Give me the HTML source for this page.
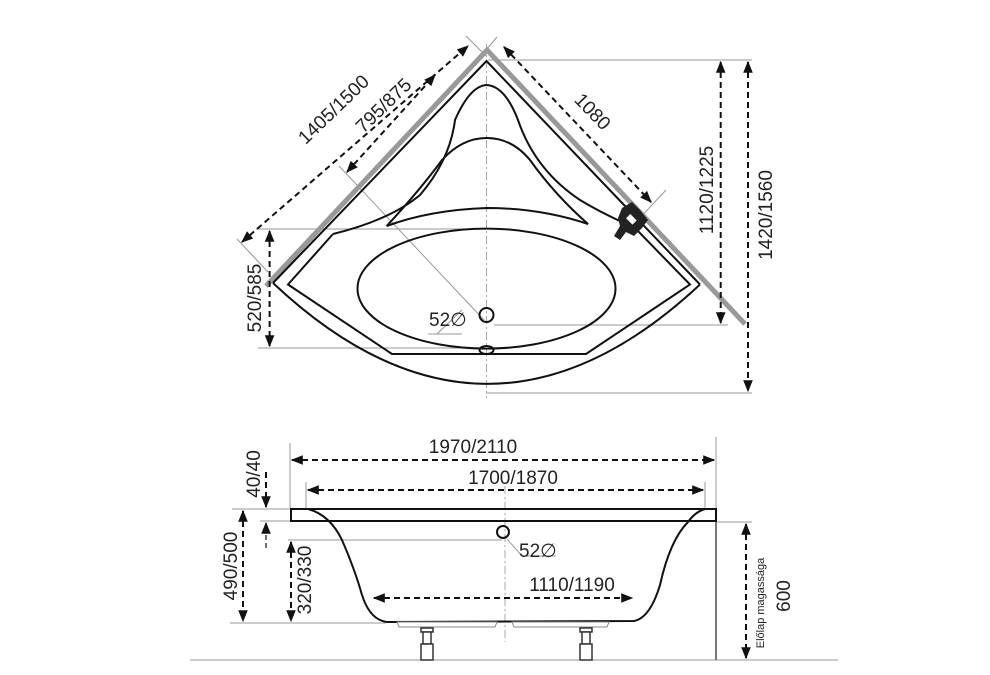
<!DOCTYPE html>
<html><head><meta charset="utf-8"><style>
html,body{margin:0;padding:0;background:#fff}
svg{display:block}
text{font-family:"Liberation Sans",sans-serif;fill:#222}
</style></head><body>
<svg width="990" height="675" viewBox="0 0 990 675" xmlns="http://www.w3.org/2000/svg">
<defs>
<marker id="a" viewBox="0 0 10 10" refX="9" refY="5" markerWidth="6" markerHeight="6" orient="auto-start-reverse"><path d="M0,1 L10,5 L0,9 z" fill="#111"/></marker>
<marker id="b" viewBox="0 0 10 10" refX="9" refY="5" markerWidth="12" markerHeight="12" markerUnits="userSpaceOnUse" orient="auto-start-reverse"><path d="M0,1 L10,5 L0,9 z" fill="#111"/></marker>
</defs>
<!-- ===== TOP VIEW ===== -->
<g fill="none" stroke="#999" stroke-width="1">
<line x1="237" y1="239" x2="268" y2="272"/>
<line x1="466" y1="36" x2="486" y2="56"/>
<line x1="339" y1="166" x2="484" y2="320"/>
<line x1="497" y1="37" x2="486" y2="50"/>
<line x1="666" y1="190" x2="636" y2="222"/>
<line x1="488" y1="60" x2="752" y2="60"/>
<line x1="494" y1="325" x2="728" y2="325"/>
<line x1="486" y1="393" x2="752" y2="393"/>
<line x1="256" y1="229" x2="486" y2="229"/>
<line x1="258" y1="348" x2="486" y2="348"/>
<line x1="437" y1="334" x2="462" y2="310"/>
<line x1="428" y1="334" x2="462" y2="334"/>
</g>
<line x1="486.5" y1="44" x2="486.5" y2="398" stroke="#aaa" stroke-width="1" stroke-dasharray="8,3,2,3"/>
<polyline points="266,286 487,50 745,324" fill="none" stroke="#999" stroke-width="5"/>
<g fill="none" stroke="#111" stroke-width="2">
<path d="M273,283 L486.5,61 L700,284.5"/>
<path d="M273,283 Q486.5,484 700,284.5"/>
<path d="M333,234 L288,284.5 L392,354 L586,354 L690,284.5 L635,228"/>
<path d="M333,234 Q390,220 420,195 Q450,160 455,120 Q470,86 486.5,85 Q505,86 518,120 Q535,170 580,200 Q600,212 622,222"/>
<path d="M386.7,226 Q420,190 442,160 Q462,138 486.5,138 Q512,138 530,160 Q555,195 588,224 Q540,208 486.5,208 Q430,210 386.7,226 z"/>
<ellipse cx="486.5" cy="288.6" rx="129" ry="60"/>
<circle cx="486.5" cy="315" r="7"/>
<ellipse cx="486.5" cy="350" rx="7" ry="4"/>
</g>
<g fill="#222">
<path d="M622,208 L632,202 L640,210 L648,220 L642,228 L634,236 L626,232 L620,240 L614,236 L620,226 L618,218 z"/>
<rect x="627" y="216" width="9" height="6" fill="#fff" transform="rotate(45 631 219)"/>
</g>
<g fill="none" stroke="#111" stroke-width="2" stroke-dasharray="6,4">
<line x1="242" y1="242" x2="468" y2="46" marker-start="url(#a)" marker-end="url(#a)"/>
<line x1="347" y1="172" x2="435" y2="75" marker-start="url(#a)" marker-end="url(#a)"/>
<line x1="504" y1="47" x2="651" y2="202" marker-start="url(#a)" marker-end="url(#a)"/>
<line x1="720.7" y1="62" x2="720.7" y2="323" marker-start="url(#a)" marker-end="url(#a)"/>
<line x1="748" y1="62" x2="748" y2="391" marker-start="url(#a)" marker-end="url(#a)"/>
<line x1="269.6" y1="231" x2="269.6" y2="346" marker-start="url(#a)" marker-end="url(#a)"/>
</g>
<g font-size="19">
<text x="338" y="114" text-anchor="middle" transform="rotate(-44 338 114)">1405/1500</text>
<text x="388" y="110" text-anchor="middle" transform="rotate(-44 388 110)">795/875</text>
<text x="588" y="116" text-anchor="middle" transform="rotate(46 588 116)">1080</text>
<text x="713" y="190" text-anchor="middle" transform="rotate(-90 713 190)">1120/1225</text>
<text x="772" y="215" text-anchor="middle" transform="rotate(-90 772 215)">1420/1560</text>
<text x="261" y="298" text-anchor="middle" transform="rotate(-90 261 298)">520/585</text>
<text x="429" y="326">52∅</text>
</g>
<!-- ===== SIDE VIEW ===== -->
<g fill="none" stroke="#999" stroke-width="1">
<line x1="290" y1="443" x2="290" y2="508"/>
<line x1="716" y1="437" x2="716" y2="508"/>
<line x1="306" y1="482" x2="306" y2="510"/>
<line x1="705" y1="482" x2="705" y2="510"/>
<line x1="232" y1="509" x2="290" y2="509"/>
<line x1="260" y1="521" x2="290" y2="521"/>
<line x1="288" y1="540" x2="502" y2="540"/>
<line x1="230" y1="623" x2="386" y2="623"/>
<line x1="716" y1="522" x2="752" y2="522"/>
<line x1="190" y1="660" x2="838" y2="660"/>
<line x1="507" y1="539" x2="522" y2="556"/>
<line x1="522" y1="556" x2="556" y2="556"/>
</g>
<line x1="505" y1="486" x2="505" y2="642" stroke="#aaa" stroke-width="1" stroke-dasharray="8,3,2,3"/>
<line x1="716" y1="521" x2="716" y2="660" stroke="#777" stroke-width="2"/>
<g fill="none" stroke="#111" stroke-width="2">
<rect x="291" y="509" width="425" height="12"/>
<path d="M308,509 Q330,515 342,540 Q355,570 362,595 Q370,620 387,622 L634,621 Q650,618 660,585 Q670,540 688,522 Q695,512 705,509"/>
<circle cx="503" cy="532" r="6"/>
</g>
<g fill="#fff" stroke="#888" stroke-width="1">
<path d="M397,622 L497,622 L495,627 L399,627 z"/>
<path d="M512,622 L609,622 L607,627 L514,627 z"/>
</g>
<g fill="#fff" stroke="#333" stroke-width="1.5">
<rect x="421" y="628" width="12" height="4"/><rect x="423" y="632" width="8" height="12"/><rect x="421" y="644" width="12" height="16"/>
<rect x="580" y="628" width="12" height="4"/><rect x="582" y="632" width="8" height="12"/><rect x="580" y="644" width="12" height="16"/>
</g>
<g fill="none" stroke="#111" stroke-width="2" stroke-dasharray="6,4">
<line x1="292" y1="460" x2="714" y2="460" marker-start="url(#a)" marker-end="url(#a)"/>
<line x1="308" y1="490" x2="703" y2="490" marker-start="url(#a)" marker-end="url(#a)"/>
<line x1="374" y1="598" x2="632" y2="598" marker-start="url(#a)" marker-end="url(#a)"/>
<line x1="243" y1="511" x2="243" y2="621" marker-start="url(#a)" marker-end="url(#a)"/>
<line x1="291" y1="542" x2="291" y2="621" marker-start="url(#a)" marker-end="url(#a)"/>
<line x1="746" y1="524" x2="746" y2="658" marker-start="url(#a)" marker-end="url(#a)"/>
<line x1="266" y1="472" x2="266" y2="507" marker-end="url(#a)"/>
</g>
<line x1="266" y1="548" x2="266" y2="523" stroke="#111" stroke-width="1.2" stroke-dasharray="5,3" marker-end="url(#b)"/>
<g font-size="19">
<text x="473" y="453" text-anchor="middle">1970/2110</text>
<text x="513" y="484" text-anchor="middle">1700/1870</text>
<text x="572" y="591" text-anchor="middle">1110/1190</text>
<text x="519" y="557">52∅</text>
<text x="260" y="474" text-anchor="middle" transform="rotate(-90 260 474)">40/40</text>
<text x="237" y="566" text-anchor="middle" transform="rotate(-90 237 566)">490/500</text>
<text x="311" y="580" text-anchor="middle" transform="rotate(-90 311 580)">320/330</text>
<text x="790" y="596" text-anchor="middle" transform="rotate(-90 790 596)">600</text>
</g>
<text x="764" y="603" font-size="11" text-anchor="middle" transform="rotate(-90 764 603)">Előlap magassága</text>
</svg>
</body></html>
